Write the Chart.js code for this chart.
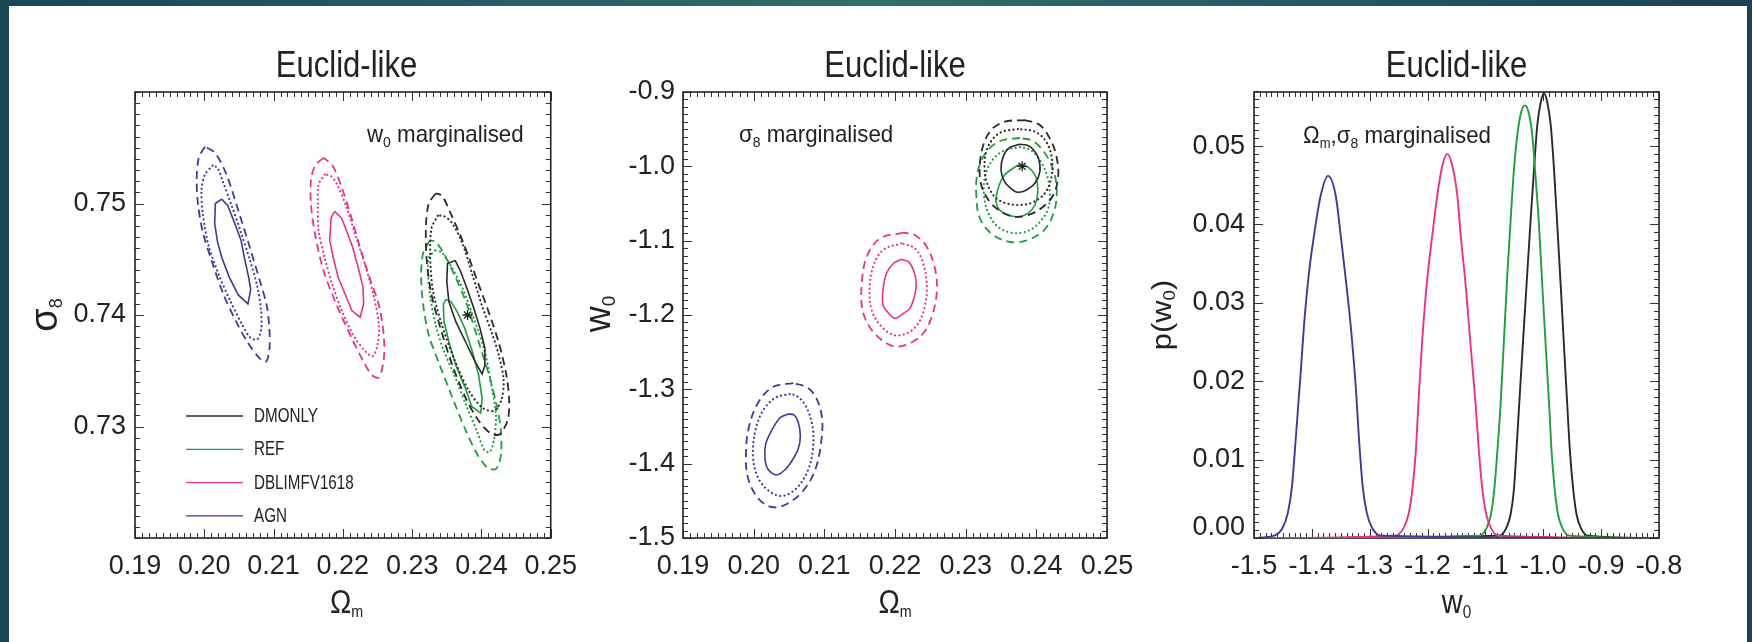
<!DOCTYPE html>
<html>
<head>
<meta charset="utf-8">
<script src="https://cdn.jsdelivr.net/npm/chart.js@4.4.1/dist/chart.umd.min.js"></script>
<style>
  html, body { margin: 0; padding: 0; }
  body { width: 1752px; height: 642px; overflow: hidden; position: relative;
         background: linear-gradient(90deg, #1b4655 0%, #2f6f6b 50%, #1a4252 100%); }
  #sheet { position: absolute; left: 9px; top: 6px; width: 1738px; height: 636px; background: #fff; }
  canvas { position: absolute; top: 6px; }
</style>
</head>
<body>
<div id="sheet"></div>
<canvas id="omS8" width="580" height="636" style="left:9px"></canvas>
<canvas id="omW0" width="560" height="636" style="left:590px"></canvas>
<canvas id="pW0"  width="595" height="636" style="left:1150px"></canvas>

<script>
/* ─── data: Ωm–σ8 contours (w0 marginalised) ─────────────── */
const OS_DMO_1 = [[0.2362,0.7449],[0.2351,0.7446],[0.2350,0.7430],[0.2353,0.7412],[0.2363,0.7394],[0.2377,0.7376],[0.2391,0.7358],[0.2401,0.7347],[0.2405,0.7355],[0.2405,0.7370],[0.2398,0.7388],[0.2389,0.7406],[0.2379,0.7424],[0.2370,0.7439]];
const OS_DMO_2 = [[0.2337,0.7489],[0.2328,0.7478],[0.2326,0.7454],[0.2330,0.7422],[0.2343,0.7391],[0.2361,0.7360],[0.2381,0.7333],[0.2401,0.7317],[0.2418,0.7314],[0.2429,0.7324],[0.2432,0.7342],[0.2425,0.7364],[0.2415,0.7384],[0.2401,0.7408],[0.2387,0.7436],[0.2372,0.7465],[0.2357,0.7483],[0.2345,0.7489]];
const OS_DMO_3 = [[0.2334,0.7509],[0.2324,0.7500],[0.2320,0.7481],[0.2321,0.7449],[0.2328,0.7418],[0.2341,0.7388],[0.2358,0.7355],[0.2377,0.7326],[0.2395,0.7306],[0.2413,0.7294],[0.2426,0.7293],[0.2438,0.7306],[0.2440,0.7324],[0.2436,0.7346],[0.2426,0.7373],[0.2412,0.7400],[0.2395,0.7429],[0.2375,0.7463],[0.2355,0.7492],[0.2343,0.7507]];
const OS_REF_1 = [[0.2349,0.7414],[0.2345,0.7410],[0.2346,0.7394],[0.2353,0.7376],[0.2363,0.7355],[0.2377,0.7334],[0.2386,0.7318],[0.2399,0.7312],[0.2401,0.7325],[0.2396,0.7346],[0.2387,0.7367],[0.2376,0.7388],[0.2365,0.7403],[0.2356,0.7412]];
const OS_REF_2 = [[0.2333,0.7458],[0.2324,0.7451],[0.2323,0.7436],[0.2327,0.7413],[0.2334,0.7391],[0.2345,0.7369],[0.2361,0.7346],[0.2378,0.7319],[0.2394,0.7295],[0.2404,0.7279],[0.2412,0.7277],[0.2418,0.7288],[0.2421,0.7310],[0.2413,0.7342],[0.2404,0.7369],[0.2389,0.7397],[0.2372,0.7425],[0.2355,0.7445],[0.2343,0.7456]];
const OS_REF_3 = [[0.2326,0.7467],[0.2316,0.7456],[0.2313,0.7436],[0.2316,0.7409],[0.2324,0.7382],[0.2338,0.7358],[0.2358,0.7326],[0.2377,0.7297],[0.2395,0.7274],[0.2409,0.7263],[0.2421,0.7262],[0.2428,0.7274],[0.2428,0.7297],[0.2422,0.7319],[0.2411,0.7346],[0.2396,0.7376],[0.2378,0.7411],[0.2361,0.7436],[0.2343,0.7458],[0.2333,0.7466]];
const OS_DBL_1 = [[0.2188,0.7493],[0.2183,0.7487],[0.2181,0.7467],[0.2186,0.7452],[0.2193,0.7434],[0.2203,0.7419],[0.2213,0.7404],[0.2225,0.7398],[0.2230,0.7410],[0.2229,0.7425],[0.2222,0.7443],[0.2214,0.7461],[0.2205,0.7476],[0.2198,0.7487]];
const OS_DBL_2 = [[0.2174,0.7526],[0.2165,0.7517],[0.2164,0.7499],[0.2165,0.7476],[0.2174,0.7451],[0.2185,0.7427],[0.2199,0.7403],[0.2216,0.7381],[0.2233,0.7367],[0.2243,0.7363],[0.2250,0.7373],[0.2252,0.7391],[0.2245,0.7416],[0.2233,0.7443],[0.2219,0.7470],[0.2205,0.7497],[0.2191,0.7518],[0.2182,0.7525]];
const OS_DBL_3 = [[0.2172,0.7541],[0.2160,0.7534],[0.2154,0.7521],[0.2154,0.7499],[0.2160,0.7472],[0.2172,0.7440],[0.2191,0.7409],[0.2213,0.7379],[0.2230,0.7358],[0.2242,0.7346],[0.2252,0.7344],[0.2259,0.7360],[0.2259,0.7382],[0.2252,0.7409],[0.2240,0.7431],[0.2226,0.7458],[0.2212,0.7488],[0.2198,0.7515],[0.2185,0.7534]];
const OS_AGN_1 = [[0.2025,0.7504],[0.2016,0.7500],[0.2015,0.7482],[0.2019,0.7466],[0.2025,0.7452],[0.2036,0.7434],[0.2049,0.7418],[0.2063,0.7410],[0.2067,0.7423],[0.2064,0.7434],[0.2058,0.7451],[0.2053,0.7467],[0.2044,0.7482],[0.2034,0.7498]];
const OS_AGN_2 = [[0.2012,0.7534],[0.2001,0.7526],[0.1996,0.7512],[0.1998,0.7490],[0.2006,0.7463],[0.2021,0.7436],[0.2038,0.7412],[0.2055,0.7391],[0.2066,0.7380],[0.2076,0.7378],[0.2082,0.7387],[0.2082,0.7404],[0.2076,0.7427],[0.2066,0.7449],[0.2053,0.7474],[0.2039,0.7499],[0.2026,0.7521],[0.2019,0.7532]];
const OS_AGN_3 = [[0.2001,0.7551],[0.1992,0.7541],[0.1989,0.7521],[0.1991,0.7499],[0.1998,0.7474],[0.2011,0.7448],[0.2028,0.7418],[0.2046,0.7394],[0.2063,0.7375],[0.2080,0.7361],[0.2089,0.7358],[0.2094,0.7369],[0.2094,0.7387],[0.2090,0.7409],[0.2080,0.7431],[0.2066,0.7460],[0.2049,0.7494],[0.2032,0.7526],[0.2016,0.7545]];

/* ─── data: Ωm–w0 contours (σ8 marginalised) ─────────────── */
const OW_DMO_1 = [[0.2376,-0.9704],[0.2362,-0.9749],[0.2353,-0.9870],[0.2350,-1.0049],[0.2355,-1.0207],[0.2365,-1.0305],[0.2374,-1.0349],[0.2386,-1.0318],[0.2398,-1.0228],[0.2405,-1.0072],[0.2403,-0.9892],[0.2395,-0.9767],[0.2386,-0.9713]];
const OW_DMO_2 = [[0.2374,-0.9498],[0.2350,-0.9542],[0.2334,-0.9690],[0.2327,-0.9915],[0.2329,-1.0184],[0.2339,-1.0386],[0.2353,-1.0484],[0.2374,-1.0520],[0.2395,-1.0484],[0.2412,-1.0363],[0.2421,-1.0161],[0.2422,-0.9892],[0.2414,-0.9669],[0.2398,-0.9534]];
const OW_DMO_3 = [[0.2384,-0.9377],[0.2355,-0.9400],[0.2336,-0.9511],[0.2325,-0.9713],[0.2320,-0.9982],[0.2322,-1.0251],[0.2334,-1.0476],[0.2350,-1.0610],[0.2369,-1.0678],[0.2388,-1.0655],[0.2407,-1.0565],[0.2424,-1.0386],[0.2431,-1.0117],[0.2428,-0.9848],[0.2419,-0.9623],[0.2405,-0.9444]];
const OW_REF_1 = [[0.2374,-0.9982],[0.2355,-1.0117],[0.2346,-1.0296],[0.2343,-1.0476],[0.2348,-1.0587],[0.2360,-1.0655],[0.2374,-1.0678],[0.2388,-1.0632],[0.2398,-1.0520],[0.2402,-1.0341],[0.2400,-1.0161],[0.2393,-1.0049],[0.2384,-0.9991]];
const OW_REF_2 = [[0.2377,-0.9740],[0.2353,-0.9794],[0.2336,-0.9942],[0.2327,-1.0157],[0.2326,-1.0399],[0.2332,-1.0628],[0.2346,-1.0816],[0.2367,-1.0897],[0.2388,-1.0870],[0.2405,-1.0749],[0.2417,-1.0561],[0.2419,-1.0345],[0.2415,-1.0117],[0.2405,-0.9915],[0.2392,-0.9780]];
const OW_REF_3 = [[0.2377,-0.9619],[0.2349,-0.9659],[0.2329,-0.9807],[0.2317,-1.0076],[0.2315,-1.0386],[0.2320,-1.0695],[0.2337,-1.0910],[0.2363,-1.1018],[0.2388,-1.0991],[0.2411,-1.0857],[0.2424,-1.0641],[0.2429,-1.0345],[0.2424,-1.0049],[0.2411,-0.9807],[0.2395,-0.9659]];
const OW_DBL_1 = [[0.2209,-1.1251],[0.2198,-1.1304],[0.2188,-1.1439],[0.2183,-1.1664],[0.2183,-1.1866],[0.2191,-1.1977],[0.2200,-1.2044],[0.2212,-1.1977],[0.2221,-1.1910],[0.2228,-1.1731],[0.2230,-1.1552],[0.2226,-1.1395],[0.2219,-1.1283]];
const OW_DBL_2 = [[0.2209,-1.1035],[0.2183,-1.1126],[0.2169,-1.1350],[0.2164,-1.1664],[0.2167,-1.1933],[0.2179,-1.2135],[0.2198,-1.2269],[0.2217,-1.2246],[0.2233,-1.2112],[0.2242,-1.1888],[0.2245,-1.1619],[0.2240,-1.1304],[0.2228,-1.1103]];
const OW_DBL_3 = [[0.2212,-1.0893],[0.2179,-1.0968],[0.2160,-1.1216],[0.2153,-1.1574],[0.2154,-1.1933],[0.2167,-1.2202],[0.2188,-1.2381],[0.2202,-1.2426],[0.2221,-1.2381],[0.2240,-1.2246],[0.2252,-1.2023],[0.2259,-1.1708],[0.2257,-1.1395],[0.2245,-1.1081],[0.2228,-1.0924]];
const OW_AGN_1 = [[0.2049,-1.3332],[0.2037,-1.3386],[0.2025,-1.3561],[0.2017,-1.3735],[0.2016,-1.3924],[0.2020,-1.4072],[0.2032,-1.4152],[0.2044,-1.4085],[0.2054,-1.3964],[0.2063,-1.3803],[0.2066,-1.3628],[0.2063,-1.3439],[0.2057,-1.3345]];
const OW_AGN_2 = [[0.2051,-1.3063],[0.2030,-1.3117],[0.2012,-1.3305],[0.2002,-1.3574],[0.1999,-1.3883],[0.2005,-1.4166],[0.2020,-1.4354],[0.2040,-1.4435],[0.2061,-1.4327],[0.2077,-1.4085],[0.2084,-1.3789],[0.2083,-1.3480],[0.2073,-1.3211],[0.2061,-1.3090]];
const OW_AGN_3 = [[0.2056,-1.2915],[0.2027,-1.2969],[0.2006,-1.3184],[0.1993,-1.3520],[0.1989,-1.3883],[0.1992,-1.4193],[0.2006,-1.4462],[0.2025,-1.4583],[0.2047,-1.4543],[0.2071,-1.4354],[0.2087,-1.4085],[0.2095,-1.3749],[0.2097,-1.3413],[0.2090,-1.3144],[0.2077,-1.2982]];

/* ─── data: p(w0) (Ωm, σ8 marginalised) ──────────────────── */
const PW_DMO = [[-1.5,0],[-1.0760,0.0003],[-1.0645,0.0012],[-1.0565,0.0030],[-1.0510,0.0060],[-1.0449,0.0130],[-1.0390,0.0203],[-1.0333,0.0271],[-1.0276,0.0339],[-1.0218,0.0407],[-1.0160,0.0471],[-1.0103,0.0527],[-1.0044,0.0556],[-0.9988,0.0567],[-0.9931,0.0556],[-0.9872,0.0527],[-0.9815,0.0471],[-0.9758,0.0399],[-0.9699,0.0322],[-0.9642,0.0245],[-0.9585,0.0169],[-0.9538,0.0109],[-0.9480,0.0060],[-0.9425,0.0030],[-0.9345,0.0012],[-0.9230,0.0003],[-0.8,0]];
const PW_REF = [[-1.5,0],[-1.1100,0.0003],[-1.0985,0.0012],[-1.0905,0.0030],[-1.0850,0.0060],[-1.0795,0.0109],[-1.0736,0.0173],[-1.0679,0.0254],[-1.0622,0.0335],[-1.0563,0.0407],[-1.0506,0.0471],[-1.0449,0.0514],[-1.0390,0.0541],[-1.0316,0.0552],[-1.0247,0.0541],[-1.0190,0.0514],[-1.0131,0.0458],[-1.0074,0.0399],[-1.0017,0.0322],[-0.9958,0.0245],[-0.9901,0.0173],[-0.9855,0.0109],[-0.9800,0.0060],[-0.9745,0.0030],[-0.9665,0.0012],[-0.9550,0.0003],[-0.8,0]];
const PW_DBL = [[-1.5,0],[-1.2560,0.0003],[-1.2420,0.0012],[-1.2330,0.0030],[-1.2265,0.0060],[-1.2205,0.0109],[-1.2148,0.0186],[-1.2091,0.0254],[-1.2005,0.0331],[-1.1918,0.0386],[-1.1832,0.0437],[-1.1745,0.0475],[-1.1659,0.0490],[-1.1573,0.0475],[-1.1486,0.0437],[-1.1427,0.0386],[-1.1341,0.0322],[-1.1255,0.0245],[-1.1168,0.0169],[-1.1111,0.0109],[-1.1050,0.0060],[-1.0985,0.0030],[-1.0900,0.0012],[-1.0770,0.0003],[-0.8,0]];
const PW_AGN = [[-1.5,0],[-1.4650,0.0003],[-1.4505,0.0013],[-1.4415,0.0032],[-1.4345,0.0065],[-1.4279,0.0126],[-1.4193,0.0211],[-1.4136,0.0271],[-1.4049,0.0339],[-1.3963,0.0386],[-1.3847,0.0437],[-1.3721,0.0462],[-1.3588,0.0437],[-1.3501,0.0386],[-1.3415,0.0331],[-1.3329,0.0271],[-1.3242,0.0194],[-1.3185,0.0126],[-1.3120,0.0065],[-1.3050,0.0032],[-1.2960,0.0013],[-1.2810,0.0003],[-0.8,0]];

/* fiducial point */
const STAR_OS = [[0.238, 0.740]];
const STAR_OW = [[0.238, -1.0]];

/* axes */
const OM_TICKS = [0.19, 0.20, 0.21, 0.22, 0.23, 0.24, 0.25];
const S8_TICKS = [0.73, 0.74, 0.75];
const W0_YTICKS = [-1.5, -1.4, -1.3, -1.2, -1.1, -1.0, -0.9];
const W0_XTICKS = [-1.5, -1.4, -1.3, -1.2, -1.1, -1.0, -0.9, -0.8];
const P_TICKS = [0.00, 0.01, 0.02, 0.03, 0.04, 0.05];

const MODELS = ['DMONLY', 'REF', 'DBLIMFV1618', 'AGN'];

/* ─── styling ─────────────────────────────────────────────── */
const FONT = "'Liberation Sans', Arial, Helvetica, sans-serif";
const INK = '#222';
const COLORS = { DMONLY: '#2a2a2a', REF: '#1f9e3c', DBLIMFV1618: '#e8338b', AGN: '#3c3b98' };
const LEVEL_STYLE = [
  { borderDash: [], borderCapStyle: 'butt', borderWidth: 1.6 },         // 1 sigma
  { borderDash: [0.1, 4.3], borderCapStyle: 'round', borderWidth: 2.2 }, // 2 sigma
  { borderDash: [8, 5], borderCapStyle: 'butt', borderWidth: 1.8 },      // 3 sigma
];

const pts = arr => arr.map(([x, y]) => ({ x, y }));

function contourSets(groups, tension) {
  const out = [];
  groups.forEach((levels, m) => levels.forEach((p, k) => out.push({
    data: pts([...p, p[0]]),
    showLine: true, pointRadius: 0, fill: false,
    borderColor: COLORS[MODELS[m]],
    tension: tension[k],
    ...LEVEL_STYLE[k],
  })));
  return out;
}

function starSet(arr) {
  return { data: pts(arr), showLine: false, pointStyle: 'star', pointRadius: 5,
           borderColor: INK, borderWidth: 1.3 };
}

function axis(min, max, ticks, digits, size, pad) {
  return {
    type: 'linear', min, max,
    afterBuildTicks: s => { s.ticks = ticks.map(v => ({ value: v })); },
    afterFit: s => { if (s.isHorizontal()) s.height = size; else s.width = size; },
    grid: { display: false, drawTicks: false },
    border: { display: false },
    ticks: { callback: v => Number(v).toFixed(digits), font: { family: FONT, size: 27 },
             color: INK, padding: pad, maxRotation: 0, autoSkip: false },
  };
}

/* text made of runs: [text, size, baselineShift] */
function drawRich(ctx, parts, x, y, { align = 'left', rot = 0, sx = 1 } = {}) {
  ctx.save();
  ctx.translate(x, y);
  if (rot) ctx.rotate(rot * Math.PI / 180);
  ctx.scale(sx, 1);
  const widths = parts.map(([t, size]) => { ctx.font = `${size}px ${FONT}`; return ctx.measureText(t).width; });
  const total = widths.reduce((a, b) => a + b, 0);
  let cx = align === 'center' ? -total / 2 : align === 'right' ? -total : 0;
  ctx.fillStyle = INK;
  ctx.textBaseline = 'alphabetic';
  parts.forEach(([t, size, dy], i) => {
    ctx.font = `${size}px ${FONT}`;
    ctx.fillText(t, cx, dy || 0);
    cx += widths[i];
  });
  ctx.restore();
}

/* box with inward major/minor ticks on all four sides, plus labels */
function frame(cfg) {
  return {
    id: 'frame',
    beforeDatasetsDraw(chart) {
      const { ctx, chartArea: a } = chart;
      ctx.save();
      ctx.strokeStyle = '#333';
      ctx.lineWidth = 1;
      ['x', 'y'].forEach(id => {
        const s = chart.scales[id];
        const step = cfg.minor[id];
        const marks = s.ticks.map(t => [t.value, 9]);
        const n = Math.round((s.max - s.min) / step);
        for (let i = 0; i <= n; i++) marks.push([s.min + i * step, 5]);
        marks.forEach(([v, len]) => {
          const p = Math.round(s.getPixelForValue(v)) + 0.5;
          ctx.beginPath();
          if (id === 'x') {
            if (p < a.left - 1 || p > a.right + 1) return;
            ctx.moveTo(p, a.bottom); ctx.lineTo(p, a.bottom - len);
            ctx.moveTo(p, a.top); ctx.lineTo(p, a.top + len);
          } else {
            if (p < a.top - 1 || p > a.bottom + 1) return;
            ctx.moveTo(a.left, p); ctx.lineTo(a.left + len, p);
            ctx.moveTo(a.right, p); ctx.lineTo(a.right - len, p);
          }
          ctx.stroke();
        });
      });
      ctx.lineWidth = 1.6;
      ctx.strokeStyle = INK;
      ctx.strokeRect(a.left, a.top, a.right - a.left, a.bottom - a.top);
      ctx.restore();
    },
    afterDraw(chart) {
      const { ctx, chartArea: a } = chart;
      cfg.texts.forEach(t => drawRich(ctx, t.parts, a.left + t.x, a.top + t.y, t));
      if (cfg.legend) {
        const L = cfg.legend;
        ctx.save();
        MODELS.forEach((m, i) => {
          const y = a.top + L.y + i * L.gap;
          ctx.strokeStyle = COLORS[m];
          ctx.lineWidth = 1.3;
          ctx.beginPath();
          ctx.moveTo(a.left + L.x1, y); ctx.lineTo(a.left + L.x2, y);
          ctx.stroke();
          drawRich(ctx, [[m, 20]], a.left + L.tx, y + 6, { sx: 0.76 });
        });
        ctx.restore();
      }
    },
  };
}

const TITLE = w => ({ parts: [['Euclid-like', 37]], x: w / 2, y: -15, align: 'center', sx: 0.84 });
const OMEGA_M = w => ({ parts: [['Ω', 34], ['m', 17, 4]], x: w / 2, y: 521, align: 'center', sx: 0.84 });

function baseOptions(pad, xAxis, yAxis) {
  return {
    responsive: false, animation: false, events: [],
    layout: { padding: pad },
    plugins: { legend: { display: false }, tooltip: { enabled: false } },
    scales: { x: xAxis, y: yAxis },
  };
}

/* ─── panel 1: Ωm vs σ8 ───────────────────────────────────── */
new Chart(document.getElementById('omS8'), {
  type: 'scatter',
  data: {
    datasets: [starSet(STAR_OS), ...contourSets([
      [OS_DMO_1, OS_DMO_2, OS_DMO_3],
      [OS_REF_1, OS_REF_2, OS_REF_3],
      [OS_DBL_1, OS_DBL_2, OS_DBL_3],
      [OS_AGN_1, OS_AGN_2, OS_AGN_3],
    ], [0, 0.3, 0.3])],
  },
  options: baseOptions({ left: 0, top: 86, right: 31, bottom: 0 },
    axis(0.19, 0.25, OM_TICKS, 2, 104, 12),
    axis(0.72, 0.76, S8_TICKS, 2, 126, 9)),
  plugins: [frame({
    minor: { x: 0.001, y: 0.001 },
    texts: [
      TITLE(423),
      { parts: [['w', 24], ['0', 15, 5], [' marginalised', 24]], x: 232, y: 50, sx: 0.93 },
      OMEGA_M(423),
      { parts: [['σ', 38], ['8', 18, 5]], x: -78, y: 223, align: 'center', rot: -90 },
    ],
    legend: { x1: 51, x2: 108, tx: 119, y: 324, gap: 33.3 },
  })],
});

/* ─── panel 2: Ωm vs w0 ───────────────────────────────────── */
new Chart(document.getElementById('omW0'), {
  type: 'scatter',
  data: {
    datasets: [starSet(STAR_OW), ...contourSets([
      [OW_DMO_1, OW_DMO_2, OW_DMO_3],
      [OW_REF_1, OW_REF_2, OW_REF_3],
      [OW_DBL_1, OW_DBL_2, OW_DBL_3],
      [OW_AGN_1, OW_AGN_2, OW_AGN_3],
    ], [0.3, 0.35, 0.35])],
  },
  options: baseOptions({ left: 0, top: 86, right: 43, bottom: 0 },
    axis(0.19, 0.25, OM_TICKS, 2, 104, 12),
    axis(-1.5, -0.9, W0_YTICKS, 1, 93, 8)),
  plugins: [frame({
    minor: { x: 0.001, y: 0.01 },
    texts: [
      TITLE(424),
      { parts: [['σ', 24], ['8', 15, 5], [' marginalised', 24]], x: 56, y: 50, sx: 0.93 },
      OMEGA_M(424),
      { parts: [['w', 36], ['0', 19, 5]], x: -73, y: 222, align: 'center', rot: -90 },
    ],
  })],
});

/* ─── panel 3: p(w0) ──────────────────────────────────────── */
const PDFS = [PW_AGN, PW_DBL, PW_REF, PW_DMO];
const PDF_MODELS = ['AGN', 'DBLIMFV1618', 'REF', 'DMONLY'];

// the bottom "0.00" label sits a little above its tick, as in the original
const pAxis = axis(0, 0.0569, P_TICKS, 2, 104, 9);
pAxis.ticks.callback = v => (v === 0 ? ['0.00', ''] : Number(v).toFixed(2));
pAxis.ticks.font.lineHeight = 0.75;

new Chart(document.getElementById('pW0'), {
  type: 'scatter',
  data: {
    datasets: PDFS.map((arr, i) => ({
      data: pts(arr), showLine: true, pointRadius: 0, fill: false,
      borderColor: COLORS[PDF_MODELS[i]], borderWidth: 1.9,
      cubicInterpolationMode: 'monotone',
    })),
  },
  options: baseOptions({ left: 0, top: 86, right: 86, bottom: 0 },
    axis(-1.5, -0.8, W0_XTICKS, 1, 104, 12),
    pAxis),
  plugins: [frame({
    minor: { x: 0.01, y: 0.001 },
    texts: [
      TITLE(405),
      { parts: [['Ω', 24], ['m', 14, 5], [',σ', 24], ['8', 15, 5], [' marginalised', 24]], x: 49, y: 51, sx: 0.93 },
      { parts: [['w', 34], ['0', 18, 5]], x: 202.5, y: 521, align: 'center', sx: 0.85 },
      { parts: [['p(w', 28], ['0', 17, 4], [')', 28]], x: -83, y: 223, align: 'center', rot: -90, sx: 1.1 },
    ],
  })],
});
</script>
</body>
</html>
